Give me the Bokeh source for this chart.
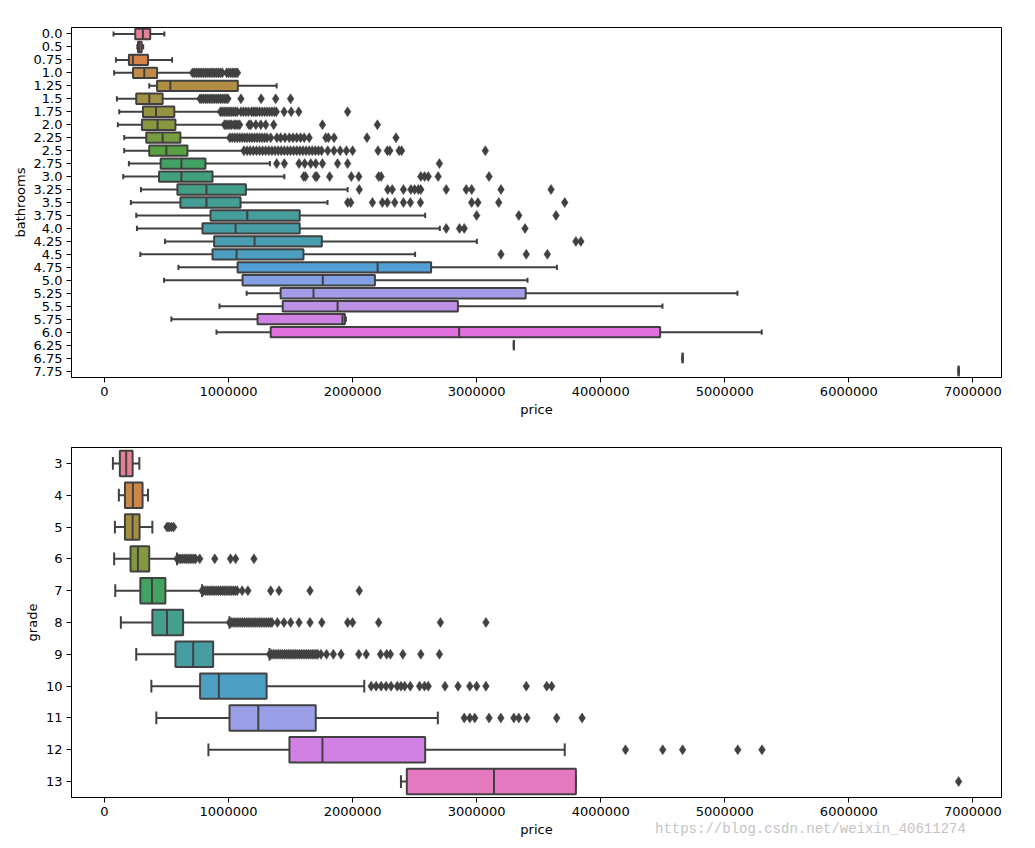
import math
import colorsys
from bokeh.plotting import figure
from bokeh.layouts import column
from bokeh.models import Range1d, FixedTicker, NumeralTickFormatter, Div
from bokeh.embed import file_html
from bokeh.resources import INLINE

# ---------------- data: bathrooms vs price ----------------
bath_labels = ["0.0", "0.5", "0.75", "1.0", "1.25", "1.5", "1.75", "2.0", "2.25", "2.5",
               "2.75", "3.0", "3.25", "3.5", "3.75", "4.0", "4.25", "4.5", "4.75", "5.0",
               "5.25", "5.5", "5.75", "6.0", "6.25", "6.75", "7.75"]
bath_lo = [73000, 265000, 92000, 78000, 361000, 100000, 119000, 108000, 159000, 159000,
           197000, 151000, 294000, 213000, 256000, 262000, 488000, 289000, 596000, 480000,
           1146000, 927000, 539000, 903000, 3300000, 4660000, 6885000]
bath_q1 = [248000, 270000, 197000, 230000, 424000, 256000, 310000, 302000, 337000, 361000,
           453000, 440000, 588000, 612000, 855000, 790000, 884000, 871000, 1073000, 1113000,
           1420000, 1437000, 1234000, 1340000, 3300000, 4660000, 6885000]
bath_med = [310000, 282000, 229000, 321000, 531000, 361000, 416000, 428000, 469000, 499000,
            620000, 620000, 822000, 822000, 1151000, 1057000, 1210000, 1065000, 2202000, 1760000,
            1685000, 1879000, 1919000, 2859000, 3300000, 4660000, 6885000]
bath_q3 = [369000, 300000, 351000, 424000, 1075000, 469000, 563000, 572000, 612000, 669000,
           814000, 871000, 1140000, 1097000, 1574000, 1574000, 1752000, 1604000, 2633000, 2180000,
           3395000, 2849000, 1938000, 4479000, 3300000, 4660000, 6885000]
bath_hi = [483000, 312000, 545000, 707000, 1388000, 768000, 935000, 968000, 1011000, 1124000,
           1334000, 1450000, 1960000, 1798000, 2585000, 2703000, 3002000, 2504000, 3647000, 3410000,
           5102000, 4498000, 1946000, 5298000, 3300000, 4660000, 6885000]
bath_outliers = [
    [], [], [],
    [710000, 725000, 740000, 755000, 770000, 785000, 800000, 815000, 830000, 845000, 860000,
     875000, 890000, 905000, 920000, 935000, 950000, 985000, 1000000, 1015000, 1030000,
     1045000, 1060000, 1072000],
    [],
    [770000, 785000, 800000, 815000, 830000, 845000, 860000, 875000, 890000, 905000, 920000,
     935000, 950000, 965000, 980000, 995000, 1100000, 1263000, 1380000, 1500000],
    [935000, 950000, 965000, 980000, 995000, 1010000, 1025000, 1040000, 1055000, 1070000,
     1100000, 1120000, 1140000, 1160000, 1185000, 1200000, 1215000, 1230000, 1250000, 1270000,
     1290000, 1310000, 1330000, 1350000, 1370000, 1385000, 1448000, 1505000, 1566000, 1960000],
    [967000, 980000, 995000, 1010000, 1025000, 1045000, 1060000, 1075000, 1090000, 1165000,
     1180000, 1220000, 1260000, 1300000, 1364000, 1757000, 2200000],
    [1010000, 1030000, 1050000, 1070000, 1090000, 1110000, 1130000, 1150000, 1170000, 1190000,
     1210000, 1230000, 1250000, 1270000, 1290000, 1310000, 1340000, 1390000, 1420000, 1455000,
     1490000, 1520000, 1550000, 1580000, 1610000, 1650000, 1784000, 1805000, 1851000, 2116000,
     2350000],
    [1124000, 1150000, 1175000, 1200000, 1225000, 1250000, 1275000, 1300000, 1325000, 1350000,
     1375000, 1400000, 1425000, 1450000, 1475000, 1500000, 1525000, 1550000, 1575000, 1600000,
     1625000, 1650000, 1675000, 1700000, 1725000, 1750000, 1800000, 1850000, 1900000, 1950000,
     2000000, 2205000, 2280000, 2300000, 2375000, 2395000, 3070000],
    [1388000, 1450000, 1568000, 1614000, 1663000, 1703000, 1757000, 1879000, 1960000, 2700000],
    [1606000, 1620000, 1700000, 1712000, 1815000, 1990000, 2050000, 2210000, 2230000, 2550000,
     2580000, 2610000, 2690000, 3100000],
    [2054000, 2283000, 2320000, 2410000, 2470000, 2500000, 2530000, 2550000, 2755000, 2916000,
     2960000, 3196000, 3600000],
    [1960000, 1985000, 2160000, 2240000, 2280000, 2340000, 2410000, 2466000, 2547000, 2960000,
     3010000, 3178000, 3710000],
    [3000000, 3340000, 3640000],
    [2755000, 2862000, 2900000, 3390000],
    [3800000, 3840000],
    [3196000, 3400000, 3570000],
    [], [], [], [], [], [], [], [], [],
]

# ---------------- data: grade vs price ----------------
grade_labels = ["3", "4", "5", "6", "7", "8", "9", "10", "11", "12", "13"]
grade_lo = [68000, 116000, 84000, 78000, 87000, 132000, 256000, 378000, 418000, 838000, 2390000]
grade_q1 = [124000, 165000, 165000, 210000, 289000, 386000, 572000, 771000, 1008000, 1491000, 2437000]
grade_med = [175000, 229000, 227000, 270000, 383000, 504000, 715000, 922000, 1240000, 1757000, 3140000]
grade_q3 = [227000, 307000, 283000, 361000, 491000, 634000, 876000, 1307000, 1703000, 2585000, 3800000]
grade_hi = [281000, 351000, 386000, 585000, 787000, 1008000, 1331000, 2094000, 2687000, 3710000, 3800000]
grade_outliers = [
    [],
    [],
    [504000, 520000, 540000, 558000],
    [585000, 600000, 615000, 630000, 645000, 660000, 675000, 690000, 705000, 720000, 735000,
     768000, 889000, 1016000, 1057000, 1205000],
    [787000, 800000, 815000, 830000, 845000, 860000, 875000, 890000, 905000, 920000, 935000,
     950000, 965000, 980000, 995000, 1010000, 1025000, 1040000, 1055000, 1070000, 1110000,
     1156000, 1340000, 1407000, 1657000, 2054000],
    [1008000, 1023000, 1038000, 1053000, 1068000, 1083000, 1098000, 1113000, 1128000, 1143000,
     1158000, 1173000, 1188000, 1203000, 1218000, 1233000, 1248000, 1263000, 1278000, 1293000,
     1308000, 1323000, 1338000, 1350000, 1394000, 1447000, 1501000, 1568000, 1657000, 1752000,
     1960000, 2000000, 2210000, 2708000, 3075000],
    [1331000, 1346000, 1361000, 1376000, 1391000, 1406000, 1421000, 1436000, 1451000, 1466000,
     1481000, 1496000, 1511000, 1526000, 1541000, 1556000, 1571000, 1586000, 1601000, 1616000,
     1631000, 1646000, 1661000, 1676000, 1691000, 1706000, 1720000, 1745000, 1790000, 1845000,
     1907000, 2050000, 2110000, 2225000, 2275000, 2305000, 2405000, 2550000, 2700000],
    [2150000, 2190000, 2230000, 2270000, 2310000, 2360000, 2390000, 2420000, 2465000, 2540000,
     2580000, 2610000, 2745000, 2850000, 2945000, 3000000, 3075000, 3400000, 3565000, 3605000],
    [2900000, 2945000, 2985000, 3100000, 3195000, 3300000, 3340000, 3405000, 3645000, 3850000],
    [4200000, 4500000, 4660000, 5105000, 5300000],
    [6885000],
]

tick_values = [0, 1000000, 2000000, 3000000, 4000000, 5000000, 6000000, 7000000]
watermark = "https://blog.csdn.net/weixin_40611274"

# ---------------- seaborn-like husl palette ----------------
_M = [[3.2406, -1.5372, -0.4986], [-0.9689, 1.8758, 0.0415], [0.0557, -0.2040, 1.0570]]
_refU, _refV = 0.19784, 0.46834


def _max_chroma(L, H):
    hrad = math.radians(H)
    sinH, cosH = math.sin(hrad), math.cos(hrad)
    sub1 = math.pow(L + 16, 3.0) / 1560896.0
    sub2 = sub1 if sub1 > 0.008856 else (L / 903.3)
    result = float("inf")
    for m1, m2, m3 in _M:
        top = (0.99915 * m1 + 1.05122 * m2 + 1.14460 * m3) * sub2
        rbottom = 0.86330 * m3 - 0.17266 * m2
        lbottom = 0.12949 * m3 - 0.38848 * m1
        bottom = (rbottom * sinH + lbottom * cosH) * sub2
        for t in (0.0, 1.0):
            C = L * (top - 1.05122 * t) / (bottom + 0.17266 * sinH * t)
            if 0.0 < C < result:
                result = C
    return result


def _f_inv(t):
    if t ** 3 > 0.008856:
        return t ** 3
    return (116.0 * t - 16.0) / 903.3


def _from_linear(c):
    if c <= 0.0031308:
        return 12.92 * c
    return 1.055 * math.pow(c, 1.0 / 2.4) - 0.055


def husl_to_rgb(h, s, l):
    C = _max_chroma(l, h) / 100.0 * s
    hrad = math.radians(h)
    U, V = math.cos(hrad) * C, math.sin(hrad) * C
    varY = _f_inv((l + 16.0) / 116.0)
    varU = U / (13.0 * l) + _refU
    varV = V / (13.0 * l) + _refV
    Y = varY
    X = 0.0 - (9.0 * Y * varU) / ((varU - 4.0) * varV - varU * varV)
    Z = (9.0 * Y - (15.0 * varV * Y) - (varV * X)) / (3.0 * varV)
    rgb = [_from_linear(r[0] * X + r[1] * Y + r[2] * Z) for r in _M]
    return [min(max(c, 0.0), 1.0) for c in rgb]


def palette(n, desat=0.75):
    out = []
    for i in range(n):
        h = ((i / n) + 0.01) % 1 * 359
        r, g, b = husl_to_rgb(h, 0.9 * 99, 0.65 * 99)
        hh, ll, ss = colorsys.rgb_to_hls(r, g, b)
        r, g, b = colorsys.hls_to_rgb(hh, ll, ss * desat)
        out.append((r, g, b))
    return out


def to_hex(c):
    return "#%02x%02x%02x" % tuple(int(round(v * 255)) for v in c)


def gray_for(cols):
    lum = min(colorsys.rgb_to_hls(*c)[1] for c in cols) * 0.6
    return to_hex((lum, lum, lum))


FONT = "DejaVu Sans"


def make_box(labels, lo, q1, med, q3, hi, outliers, ylabel, height, top, bottom):
    n = len(labels)
    cols = palette(n)
    gray = gray_for(cols)
    p = figure(width=1035, height=height, output_backend="svg", toolbar_location=None,
               x_range=Range1d(-265750, 7230750), y_range=Range1d(n - 0.5, -0.5),
               min_border_left=71, min_border_right=34, min_border_top=top,
               min_border_bottom=bottom)
    p.grid.visible = False
    p.outline_line_color = "black"
    p.outline_line_width = 1
    p.background_fill_color = "white"
    p.border_fill_color = "white"
    ys = list(range(n))
    hw = 0.4
    cw = 0.2
    # whiskers
    p.segment(x0=lo, y0=ys, x1=q1, y1=ys, line_color=gray, line_width=2)
    p.segment(x0=q3, y0=ys, x1=hi, y1=ys, line_color=gray, line_width=2)
    # caps
    p.segment(x0=lo, y0=[y - cw for y in ys], x1=lo, y1=[y + cw for y in ys],
              line_color=gray, line_width=2)
    p.segment(x0=hi, y0=[y - cw for y in ys], x1=hi, y1=[y + cw for y in ys],
              line_color=gray, line_width=2)
    # boxes
    p.hbar(y=ys, left=q1, right=q3, height=2 * hw, fill_color=[to_hex(c) for c in cols],
           line_color=gray, line_width=2)
    # medians
    p.segment(x0=med, y0=[y - hw for y in ys], x1=med, y1=[y + hw for y in ys],
              line_color=gray, line_width=2)
    # fliers
    fx, fy = [], []
    for i, vals in enumerate(outliers):
        fx.extend(vals)
        fy.extend([i] * len(vals))
    p.scatter(x=fx, y=fy, marker="diamond", size=10, fill_color=gray, line_color=gray,
              line_width=0.5)

    p.xaxis.ticker = FixedTicker(ticks=tick_values)
    p.xaxis.formatter = NumeralTickFormatter(format="0")
    p.yaxis.ticker = FixedTicker(ticks=ys)
    p.yaxis.major_label_overrides = {i: lab for i, lab in enumerate(labels)}
    p.xaxis.axis_label = "price"
    p.yaxis.axis_label = ylabel
    for ax in (p.xaxis[0], p.yaxis[0]):
        ax.axis_line_color = "black"
        ax.axis_line_width = 1
        ax.major_tick_line_color = "black"
        ax.major_tick_out = 5
        ax.major_tick_in = 0
        ax.minor_tick_line_color = None
        ax.major_label_text_font = FONT
        ax.major_label_text_font_size = "13px"
        ax.major_label_text_color = "black"
        ax.axis_label_text_font = FONT
        ax.axis_label_text_font_size = "13px"
        ax.axis_label_text_font_style = "normal"
        ax.axis_label_text_color = "black"
        ax.major_label_standoff = 4
        ax.axis_label_standoff = 3
    return p


p1 = make_box(bath_labels, bath_lo, bath_q1, bath_med, bath_q3, bath_hi, bath_outliers,
              "bathrooms", 422, 27, 45)
p2 = make_box(grade_labels, grade_lo, grade_q1, grade_med, grade_q3, grade_hi, grade_outliers,
              "grade", 426, 25, 51)

wm = Div(text=watermark, width=360, height=18, margin=(-28, 0, 0, 655),
         styles={"font-family": "'Liberation Mono', monospace", "font-size": "14px",
                 "color": "#c4c4c4", "white-space": "nowrap", "line-height": "18px",
                 "z-index": "10"})

layout = column(p1, p2, wm, spacing=0)
open("out.html", "w").write(file_html(layout, INLINE))
